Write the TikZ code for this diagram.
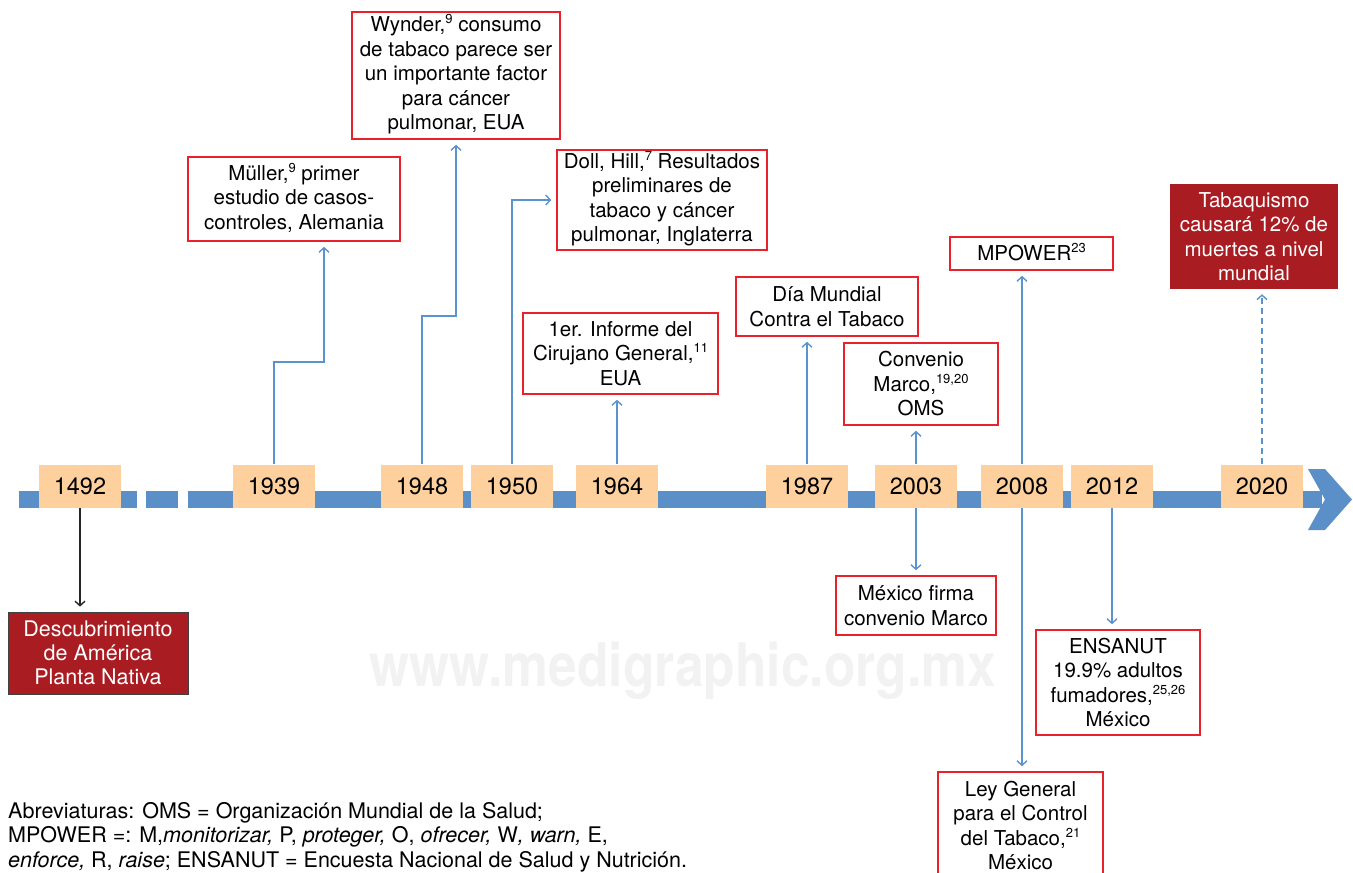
\documentclass[tikz,border=0pt]{standalone}
\usepackage{fontspec}
\setmainfont{TeX Gyre Heros}
\newfontfamily\narrowfont{TeX Gyre Heros}[FakeStretch=0.86]
\usepackage{tikz}
\usetikzlibrary{arrows.meta}
\definecolor{barblue}{HTML}{5B8FC7}
\definecolor{linkblue}{HTML}{5A93CE}
\definecolor{peach}{HTML}{FDD09D}
\definecolor{boxred}{HTML}{E8212A}
\definecolor{darkred}{HTML}{A81C22}
\newcommand\refsup[1]{\smash{\raisebox{0.4em}{\fontsize{13}{13}\selectfont #1}}}

\begin{document}
\begin{tikzpicture}[x=1pt,y=-1pt,
    yearbox/.style={fill=peach,minimum width=82,minimum height=43,inner sep=0pt,
      font=\fontsize{23.5}{23.5}\selectfont},
    redbox/.style={draw=boxred,line width=1.6pt,fill=white,align=center,inner sep=0pt,
      font=\fontsize{20.5}{24.5}\selectfont},
    darkbox/.style={fill=darkred,text=white,align=center,inner sep=0pt},
    link/.style={draw=linkblue,line width=1.4pt,-{Straight Barb[length=4.5pt,width=10pt]},shorten >=5pt}]
  \clip (0,0) rectangle (1353,873);

  % watermark
  \draw (683,671) node[text=black!5,font=\narrowfont\bfseries\fontsize{60}{60}\selectfont] (mark) {www.medigraphic.org.mx};

  % time bar
  \fill[barblue] (19,491) rectangle (51,508);
  \fill[barblue] (64,491) rectangle (96,508);
  \fill[barblue] (105,491) rectangle (137,508);
  \fill[barblue] (146,491) rectangle (178,508);
  \fill[barblue] (188,491) rectangle (1322,508);
  \fill[barblue] (1308,469) -- (1325,469) -- (1352,499.5) -- (1325,530) -- (1308,530) -- (1325,499.5) -- cycle;

  % years
  \draw (80,486) node[yearbox] (y1492) {1492};
  \draw (274,486) node[yearbox] (y1939) {1939};
  \draw (422,486) node[yearbox] (y1948) {1948};
  \draw (512,486) node[yearbox] (y1950) {1950};
  \draw (617,486) node[yearbox] (y1964) {1964};
  \draw (807,486) node[yearbox] (y1987) {1987};
  \draw (916,486) node[yearbox] (y2003) {2003};
  \draw (1022,486) node[yearbox] (y2008) {2008};
  \draw (1112,486) node[yearbox] (y2012) {2012};
  \draw (1262,486) node[yearbox] (y2020) {2020};

  % events above
  \draw (294,199) node[redbox,minimum width=212,minimum height=84] (muller)
    {Müller,\refsup{9} primer\\estudio de casos-\\controles, Alemania};
  \draw (456,75.5) node[redbox,minimum width=208,minimum height=127] (wynder)
    {Wynder,\refsup{9} consumo\\de tabaco parece ser\\un importante factor\\para cáncer\\pulmonar, EUA};
  \draw (662,200) node[redbox,minimum width=210,minimum height=100] (doll)
    {Doll, Hill,\refsup{7} Resultados\\preliminares de\\tabaco y cáncer\\pulmonar, Inglaterra};
  \draw (620.5,353.5) node[redbox,minimum width=195,minimum height=81] (informe)
    {1er. Informe del\\Cirujano General,\refsup{11}\\EUA};
  \draw (827,306.5) node[redbox,minimum width=182,minimum height=59] (dia)
    {Día Mundial\\Contra el Tabaco};
  \draw (921,384) node[redbox,minimum width=154,minimum height=82] (convenio)
    {Convenio\\Marco,\refsup{19,20}\\OMS};
  \draw (1031.5,253.5) node[redbox,minimum width=163,minimum height=33] (mpower)
    {MPOWER\refsup{23}};
  \draw (1254,236.5) node[darkbox,minimum width=168,minimum height=105,
    font=\fontsize{20.5}{24.5}\selectfont] (tabaq)
    {Tabaquismo\\causará 12\% de\\muertes a nivel\\mundial};

  % events below
  \draw (916,605.5) node[redbox,minimum width=160,minimum height=59] (firma)
    {México firma\\convenio Marco};
  \draw (1118,682.5) node[redbox,minimum width=164,minimum height=105] (ensanut)
    {ENSANUT\\19.9\% adultos\\fumadores,\refsup{25,26}\\México};
  \draw (1020.5,825.5) node[redbox,minimum width=165,minimum height=107] (ley)
    {Ley General\\para el Control\\del Tabaco,\refsup{21}\\México};
  \draw (98,653) node[darkbox,draw=black!75,line width=0.8pt,minimum width=180,minimum height=82,
    font=\fontsize{21.5}{24.3}\selectfont] (descub)
    {Descubrimiento\\de América\\Planta Nativa};

  % connectors
  \draw[link] (y1939.north) |- (324,362) -- (324,362 |- muller.south);
  \draw[link] (y1948.north) |- (440,316) -| (wynder.south);
  \draw[link] (y1950.north) |- (doll.west);
  \draw[link] (y1964.north) -- (y1964.north |- informe.south);
  \draw[link] (y1987.north) -- (y1987.north |- dia.south);
  \draw[link] (y2003.north) -- (y2003.north |- convenio.south);
  \draw[link] (y2008.north) -- (y2008.north |- mpower.south);
  \draw[link,dash pattern=on 6pt off 4pt] (y2020.north) -- (y2020.north |- tabaq.south);
  \draw[link] (916,508) -- (916,508 |- firma.north);
  \draw[link] (1112,508) -- (1112,508 |- ensanut.north);
  \draw[link] (1022,508) -- (1022,508 |- ley.north);
  \draw[link,draw=black!85] (80,508) -- (80,508 |- descub.north);

  % abbreviations
  \draw (8,802) node[anchor=north west,align=left,inner sep=0pt,
    font=\fontsize{21.5}{24.4}\selectfont] (abrev)
    {Abreviaturas: OMS = Organización Mundial de la Salud;\\
     MPOWER =: M,\textit{monitorizar,} P, \textit{proteger,} O, \textit{ofrecer,} W\textit{, warn,} E,\\
     \textit{enforce,} R, \textit{raise}; ENSANUT = Encuesta Nacional de Salud y Nutrición.};
\end{tikzpicture}
\end{document}
